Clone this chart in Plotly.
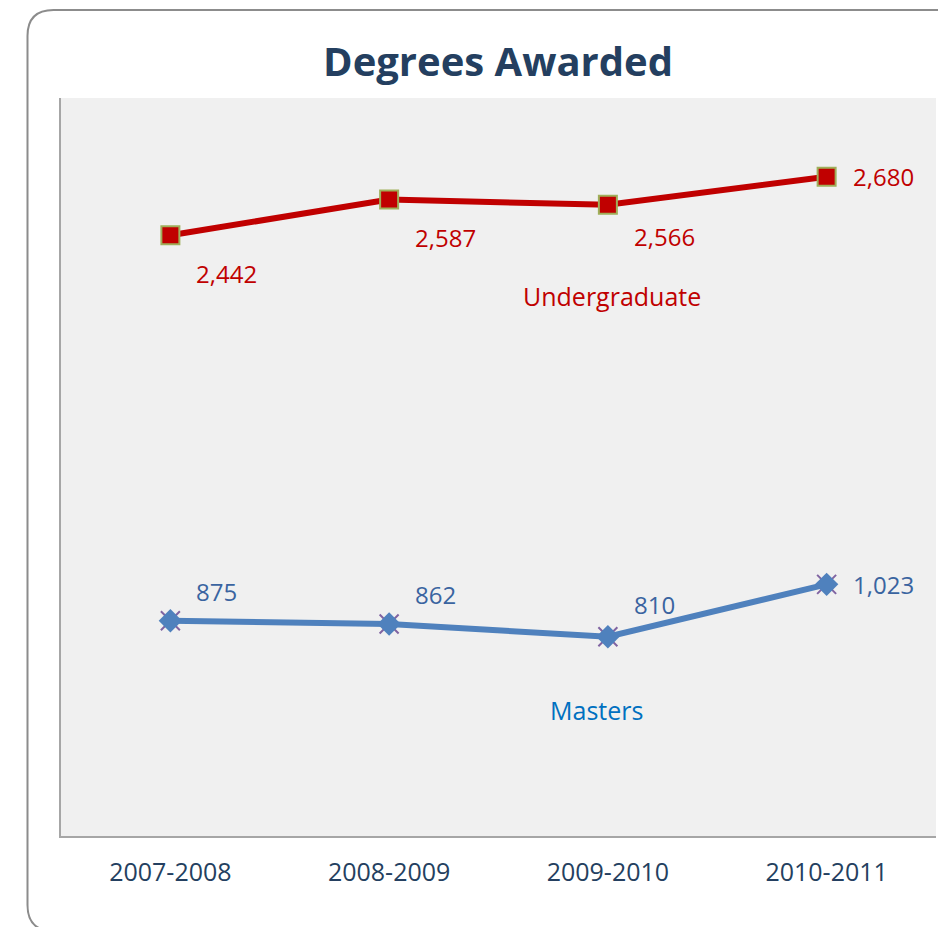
import plotly.graph_objects as go

years = ['2007-2008', '2008-2009', '2009-2010', '2010-2011']
undergrad = [2442, 2587, 2566, 2680]
masters = [875, 862, 810, 1023]
undergrad_labels = ['2,442', '2,587', '2,566', '2,680']
masters_labels = ['875', '862', '810', '1,023']

# the page body has an 8px margin, so the figure is drawn 8px smaller/shifted
OFF = 8
W, H = 946 - OFF, 927 - OFF
L, R, T, B = 61 - OFF, 10, 98 - OFF, 91
FONT = 'Open Sans'


def px(x):
    # screen pixel -> paper x
    return (x - OFF - L) / (W - L - R)


def py(y):
    # screen pixel -> paper y
    return (H - B - (y - OFF)) / (H - T - B)


fig = go.Figure()

fig.add_trace(go.Scatter(
    x=years, y=undergrad, mode='lines+markers', name='Undergraduate',
    line=dict(color='#C00000', width=6),
    marker=dict(symbol='square', size=18, color='#C00000',
                line=dict(color='#9FAF5A', width=2))))

# purple cross behind the blue diamond
fig.add_trace(go.Scatter(
    x=years, y=masters, mode='markers', name='Masters x',
    marker=dict(symbol='x-thin-open', size=19, color='#8064A2',
                line=dict(color='#8064A2', width=2))))
fig.add_trace(go.Scatter(
    x=years, y=masters, mode='lines+markers', name='Masters',
    line=dict(color='#4F81BD', width=6),
    marker=dict(symbol='diamond', size=18, color='#4F81BD')))

# data labels
ug_shift = [-38, -38, -32, 0]
ms_shift = [29, 29, 32, 0]
for i in range(len(years)):
    fig.add_annotation(x=years[i], y=undergrad[i], text=undergrad_labels[i],
                       showarrow=False, xanchor='left', xshift=24,
                       yshift=ug_shift[i],
                       font=dict(family=FONT, size=24, color='#C00000'))
    fig.add_annotation(x=years[i], y=masters[i], text=masters_labels[i],
                       showarrow=False, xanchor='left', xshift=24,
                       yshift=ms_shift[i],
                       font=dict(family=FONT, size=24, color='#3A64A0'))

# series names
fig.add_annotation(x=2.02, y=2195, text='Undergraduate', showarrow=False,
                   font=dict(family=FONT, size=25, color='#C00000'))
fig.add_annotation(x=1.946, y=512, text='Masters', showarrow=False,
                   font=dict(family=FONT, size=25, color='#0070C0'))

# rounded outer frame (right edge lies outside the picture)
rad = 26
left, top, bottom = 27.5, 10, 931
path = ('M {f},{g} L {e2},{g} Q {a},{g} {a},{h} L {a},{c} '
        'Q {a},{d} {e},{d} L {f},{d}'
        .format(a=px(left), c=py(top + rad), d=py(top),
                e=px(left + rad), f=px(980),
                g=py(bottom), h=py(bottom - rad), e2=px(left + rad)))
fig.add_shape(type='path', path=path, xref='paper', yref='paper',
              line=dict(color='#8C8C8C', width=2))

fig.update_layout(
    width=W, height=H,
    margin=dict(l=L, r=R, t=T, b=B),
    paper_bgcolor='white', plot_bgcolor='#F0F0F0',
    showlegend=False,
    title=dict(text='<b>Degrees Awarded</b>', x=(498 - OFF) / W,
               xanchor='center', y=1 - (62 - OFF) / H, yanchor='middle',
               font=dict(family=FONT, size=40, color='#243F60')),
    xaxis=dict(type='category', range=[-0.5, 3.5], showgrid=False,
               showline=True, linecolor='#A6A6A6', linewidth=2,
               ticks='', ticklen=0, ticklabelstandoff=13,
               tickfont=dict(family=FONT, size=25, color='#243F60')),
    yaxis=dict(range=[0, 3000], showgrid=False, zeroline=False,
               showline=True, linecolor='#A6A6A6', linewidth=2,
               showticklabels=False, ticks=''),
)

fig.write_html('out.html')
